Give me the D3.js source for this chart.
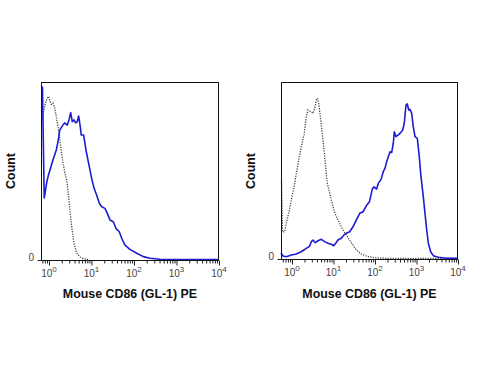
<!DOCTYPE html>
<html>
<head>
<meta charset="utf-8">
<script src="https://cdn.jsdelivr.net/npm/d3@7"></script>
<style>
  body { margin: 0; background: #fff; }
  svg { display: block; font-family: Arial, "Liberation Sans", sans-serif; }
  .frame { fill: none; stroke: #111; stroke-width: 1; }
  .stained { fill: none; stroke: #1c1cd4; stroke-width: 1.6; stroke-linejoin: round; }
  .isotype { fill: none; stroke: #444; stroke-width: 1.3; stroke-dasharray: 1.2 1.3; }
  .axis path { display: none; }
  .axis line { stroke: #222; }
</style>
</head>
<body>
<svg id="chart" width="500" height="377"></svg>
<script>
// 左パネル: 染色サンプル (青)
var leftStainX = [0.667, 0.703, 0.774, 0.883, 0.946, 1.24, 1.49, 1.69, 1.79, 2.13, 2.34, 2.70, 2.96, 3.24, 3.53, 3.87, 4.25, 4.63, 5.00, 5.45, 5.75, 6.55, 7.55, 8.73, 10.3, 11.5, 13.2, 15.3, 17.4, 20.8, 23.6, 27.2, 32.6, 37.7, 45.1, 51.4, 61.4, 80.5, 116, 166, 238, 407, 10000];
var leftStainY = [97.2, 97.2, 34.8, 43.3, 46.6, 56.2, 61.8, 68.5, 73.0, 75.8, 77.0, 75.8, 78.7, 82.8, 77.7, 78.7, 77.0, 77.7, 80.9, 74.9, 70.2, 70.2, 60.8, 53.4, 44.9, 40.4, 36.5, 31.9, 29.9, 29.0, 26.2, 22.5, 21.5, 17.8, 15.9, 12.2, 8.4, 6.0, 3.8, 1.9, 1.0, 0.4, 0.3];
// 左パネル: アイソタイプ (点線)
var leftIsoX = [0.703, 0.762, 0.827, 0.912, 0.984, 1.06, 1.13, 1.24, 1.36, 1.49, 1.63, 1.72, 1.85, 1.95, 2.13, 2.34, 2.61, 2.84, 3.12, 3.42, 3.87, 4.49, 5.36, 6.41, 8.28];
var leftIsoY = [78.7, 84.3, 88.2, 91.0, 91.9, 89.0, 87.4, 88.2, 85.4, 80.6, 75.0, 71.3, 65.7, 60.8, 55.1, 49.4, 44.9, 37.6, 28.1, 18.7, 9.6, 3.9, 1.7, 0.7, 0.3];

// 右パネル: 染色サンプル (青)
var rightStainX = [0.543, 0.607, 0.729, 0.962, 1.27, 1.67, 2.21, 2.67, 2.92, 3.21, 3.64, 4.23, 5.08, 6.14, 7.36, 8.85, 10.1, 11.3, 12.8, 15.4, 17.9, 20.3, 24.5, 29.5, 35.4, 42.8, 51.4, 62.4, 73.6, 86.1, 94.6, 109, 120, 140, 158, 174, 191, 209, 230, 252, 276, 292, 321, 364, 416, 465, 508, 558, 600, 649, 697, 766, 837, 920, 1045, 1167, 1282, 1458, 1603, 1762, 1925, 2198, 2541, 3350, 5343, 10000];
var rightStainY = [3.4, 1.7, 1.3, 2.3, 2.8, 4.1, 6.0, 7.3, 9.8, 10.7, 9.2, 10.3, 11.1, 9.8, 8.9, 8.3, 7.5, 8.9, 10.7, 11.7, 13.6, 14.5, 15.4, 18.2, 22.0, 25.8, 26.7, 30.2, 32.4, 39.5, 40.8, 39.5, 42.7, 45.0, 49.3, 51.2, 55.0, 57.8, 60.6, 60.1, 65.4, 71.9, 69.1, 70.1, 71.4, 72.9, 76.7, 87.0, 87.6, 84.2, 84.6, 82.3, 74.7, 69.1, 68.2, 57.8, 46.5, 35.2, 25.8, 16.4, 8.9, 4.1, 1.9, 1.0, 0.4, 0.4];
// 右パネル: アイソタイプ (点線)
var rightIsoX = [0.558, 0.59, 0.667, 0.729, 0.832, 0.962, 1.12, 1.27, 1.45, 1.67, 1.95, 2.21, 2.43, 2.82, 3.21, 3.52, 3.85, 4.07, 4.40, 4.92, 5.59, 6.34, 7.09, 8.10, 8.85, 10.3, 11.7, 14.1, 16.9, 20.3, 24.5, 29.5, 35.4, 46.8, 61.7, 98.4, 229, 10000];
var rightIsoY = [44.6, 15.3, 15.4, 20.2, 25.8, 33.3, 40.8, 48.4, 55.9, 63.4, 70.1, 80.4, 84.2, 83.2, 82.3, 85.1, 89.8, 90.8, 88.0, 78.5, 67.2, 54.1, 42.8, 37.1, 33.3, 27.7, 23.9, 20.2, 16.4, 13.6, 10.7, 7.9, 5.1, 2.8, 1.7, 0.7, 0.3, 0.3];

var decades = [0, 1, 2, 3, 4];
var xTitle = "Mouse CD86 (GL-1) PE";
var yTitle = "Count";

var svg = d3.select("#chart");

var panels = [
    {left: 41, right: 219, top: 82, bottom: 260, xmin: 0.65, stainX: leftStainX, stainY: leftStainY, isoX: leftIsoX, isoY: leftIsoY, yLabelX: 11},
    {left: 281, right: 458, top: 82, bottom: 259, xmin: 0.543, stainX: rightStainX, stainY: rightStainY, isoX: rightIsoX, isoY: rightIsoY, yLabelX: 251}
];

panels.forEach(function(p){
    var x = d3.scaleLog().domain([p.xmin, 10000]).range([p.left, p.right]);
    var y = d3.scaleLinear().domain([0, 100]).range([p.bottom, p.top]);

    var line = d3.line()
        .x(function(d){ return x(d[0]); })
        .y(function(d){ return y(d[1]); });

    // アイソタイプ (点線)
    svg.append("path")
        .attr("class", "isotype")
        .attr("d", line(d3.zip(p.isoX, p.isoY)));

    // 染色 (青線)
    svg.append("path")
        .attr("class", "stained")
        .attr("d", line(d3.zip(p.stainX, p.stainY)));

    // 枠
    svg.append("rect")
        .attr("class", "frame")
        .attr("x", p.left + 0.5)
        .attr("y", p.top + 0.5)
        .attr("width", p.right - p.left - 1)
        .attr("height", p.bottom - p.top);

    // 目盛 (小さい目盛も含む)
    var ticks = x.ticks().filter(function(t){ return t >= p.xmin; });
    var axis = svg.append("g")
        .attr("class", "axis")
        .attr("transform", "translate(0," + (p.bottom + 0.5) + ")")
        .call(d3.axisBottom(x).tickValues(ticks).tickFormat("").tickSizeOuter(0));
    axis.selectAll(".tick line")
        .attr("y2", function(d){
            var e = Math.log10(d);
            return Math.abs(e - Math.round(e)) < 1e-6 ? 5 : 3;
        });

    // y 軸の 0 目盛
    svg.append("g")
        .attr("class", "axis")
        .attr("transform", "translate(" + (p.left + 0.5) + ",0)")
        .call(d3.axisLeft(y).tickValues([0]).tickFormat("").tickSize(4).tickSizeOuter(0));

    // 10^n ラベル
    var lab = svg.append("g").selectAll("text")
        .data(decades)
        .join("text")
        .attr("x", function(d){ return x(Math.pow(10, d)); })
        .attr("y", p.bottom + 17)
        .attr("text-anchor", "middle")
        .attr("font-size", 10)
        .attr("fill", "#444");
    lab.append("tspan").text("10");
    lab.append("tspan")
        .attr("font-size", 8)
        .attr("dy", -5)
        .text(function(d){ return d; });

    // y = 0
    svg.append("text")
        .attr("x", p.left - 7)
        .attr("y", y(0) + 1)
        .attr("text-anchor", "end")
        .attr("font-size", 10)
        .attr("fill", "#444")
        .text("0");

    // 軸タイトル
    svg.append("text")
        .attr("x", (p.left + p.right) / 2)
        .attr("y", 298)
        .attr("text-anchor", "middle")
        .attr("font-size", 12.4)
        .attr("font-weight", "bold")
        .attr("fill", "#111")
        .text(xTitle);

    svg.append("text")
        .attr("transform", "translate(" + (p.yLabelX + 4) + "," + 171 + ") rotate(-90)")
        .attr("text-anchor", "middle")
        .attr("font-size", 12.4)
        .attr("font-weight", "bold")
        .attr("fill", "#111")
        .text(yTitle);
});
</script>
</body>
</html>
